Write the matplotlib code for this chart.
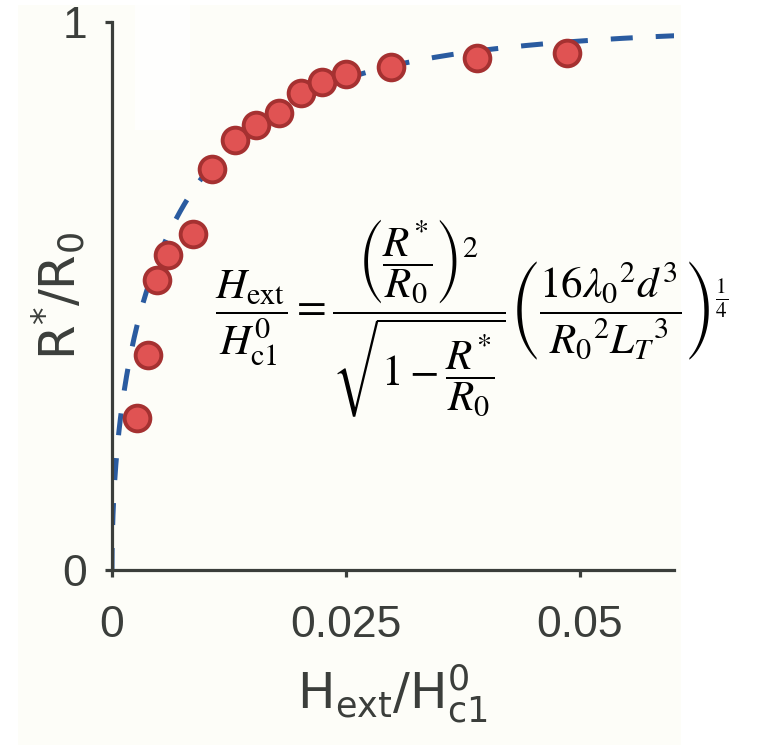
import numpy as np
import matplotlib
matplotlib.use("Agg")
import matplotlib.pyplot as plt
from matplotlib.patches import Rectangle

# Measured points: normalised field vs normalised radius
h_ext = [0.00267, 0.00385, 0.0048, 0.0060, 0.00865, 0.0107, 0.0131, 0.0154,
         0.0178, 0.0202, 0.0224, 0.0250, 0.0298, 0.0390, 0.0486]
r_ratio = [0.277, 0.392, 0.529, 0.575, 0.613, 0.732, 0.785, 0.812,
           0.834, 0.870, 0.891, 0.905, 0.918, 0.934, 0.943]

# Prefactor (16 lambda0^2 d^3 / (R0^2 L_T^3))^(1/4) of the model
prefactor = 0.010

x_ticks = [0, 0.025, 0.05]
x_ticklabels = ["0", "0.025", "0.05"]
y_ticks = [0, 1]
y_ticklabels = ["0", "1"]

W, H = 757, 746
fig = plt.figure(figsize=(W / 100, H / 100), dpi=100)
fig.patch.set_facecolor("white")

# cream page background
fig.patches.append(Rectangle((18 / W, 1 - 745 / H), (681 - 18) / W, (745 - 5) / H,
                             transform=fig.transFigure, facecolor="#fdfdf8",
                             edgecolor="none", zorder=-10))
fig.patches.append(Rectangle((135 / W, 1 - 130 / H), (190 - 135) / W, (130 - 5) / H,
                             transform=fig.transFigure, facecolor="#fefefd",
                             edgecolor="none", zorder=-9))

x0, x1 = 112, 673.6
y0, y1 = 570, 22
ax = fig.add_axes([x0 / W, 1 - y0 / H, (x1 - x0) / W, (y0 - y1) / H])
ax.set_facecolor("none")

axis_color = "#3b3e3b"

# model curve H/H0 = C r^2 / sqrt(1 - r)
r = np.linspace(0, 0.985, 600)
h_model = prefactor * r**2 / np.sqrt(1 - r)
ax.plot(h_model, r, color="#2a5ba0", lw=3.6, ls=(0, (4.4, 4.6)),
        solid_capstyle="butt", dash_capstyle="butt", zorder=2, clip_on=True)

ax.plot(h_ext, r_ratio, "o", ms=18.5, mfc="#e05353", mec="#a53131", mew=2.8,
        zorder=3, clip_on=False)

ax.set_xlim(0, 0.06)
ax.set_ylim(0, 1)
for side in ("top", "right"):
    ax.spines[side].set_visible(False)
for side in ("left", "bottom"):
    ax.spines[side].set_color(axis_color)
    ax.spines[side].set_linewidth(2.3)

ax.set_xticks(x_ticks)
ax.set_xticklabels(x_ticklabels)
ax.set_yticks(y_ticks)
ax.set_yticklabels(y_ticklabels)
ax.tick_params(direction="out", length=5, width=2.3, color=axis_color,
               labelcolor=axis_color, labelsize=32)
ax.tick_params(axis="x", pad=20)
ax.tick_params(axis="y", pad=13)
for lab in ax.get_xticklabels() + ax.get_yticklabels():
    lab.set_fontfamily("Liberation Sans")

plt.rcParams["mathtext.fontset"] = "custom"
plt.rcParams["mathtext.rm"] = "Liberation Sans"
plt.rcParams["mathtext.it"] = "Liberation Sans"
plt.rcParams["mathtext.bf"] = "Liberation Sans"
plt.rcParams["mathtext.sf"] = "Liberation Sans"

ax.set_xlabel(r"$\mathregular{H_{ext}/H^{0}_{c1}}$", fontsize=36,
              color=axis_color, labelpad=12)
ax.set_ylabel(r"$\mathregular{R^{*}/R_{0}}$", fontsize=36,
              color=axis_color, labelpad=-18)

formula = (r"$\dfrac{H_{\mathrm{ext}}}{H_{\mathrm{c1}}^{0}} = "
           r"\dfrac{\left(\dfrac{R^{*}}{R_{0}}\right)^{2}}"
           r"{\sqrt{1-\dfrac{R^{*}}{R_{0}}}}"
           r"\left(\dfrac{16{\lambda_{0}}^{2}d^{3}}{{R_{0}}^{2}{L_{T}}^{3}}\right)^{\frac{1}{4}}$")
with plt.rc_context({"mathtext.fontset": "stix"}):
    fig.text(472 / W, 1 - 318 / H, formula, fontsize=31, ha="center",
             va="center", color="black")

fig.savefig("out.png", dpi=100, facecolor=fig.get_facecolor())
